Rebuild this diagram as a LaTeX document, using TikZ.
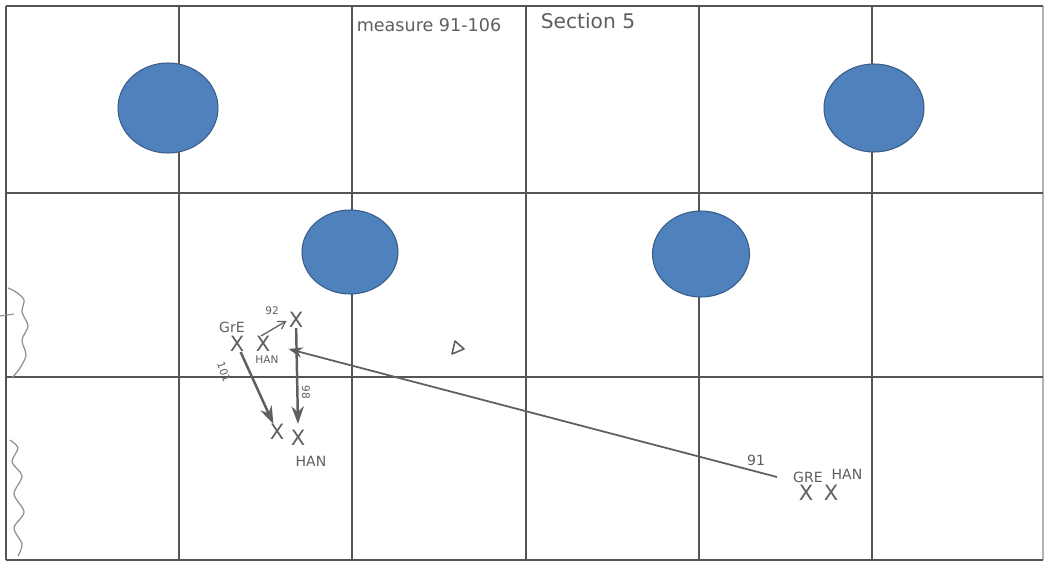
\documentclass[tikz,border=0pt]{standalone}
\usepackage{fontspec}
\setsansfont{DejaVu Sans}
\usetikzlibrary{arrows.meta,shapes.geometric}
\definecolor{seat}{RGB}{79,129,189}
\definecolor{seatline}{RGB}{56,93,138}
\definecolor{gridc}{RGB}{85,85,85}
\definecolor{pencil}{RGB}{95,95,95}
\tikzset{
  gridline/.style={draw=gridc,line width=1.2pt},
  seatdot/.style={ellipse,fill=seat,draw=seatline,line width=0.6pt,inner sep=0pt},
  hand/.style={text=pencil,font=\sffamily\fontsize{8}{8}\selectfont,inner sep=1pt},
  smallhand/.style={text=pencil,font=\sffamily\fontsize{6}{6}\selectfont,inner sep=0.5pt},
  title/.style={text=pencil,font=\sffamily\fontsize{10}{10}\selectfont,inner sep=1pt},
  bigtitle/.style={text=pencil,font=\sffamily\fontsize{11.5}{11.5}\selectfont,inner sep=1pt},
  cross/.style={text=pencil,font=\sffamily\fontsize{12}{12}\selectfont,inner sep=0pt},
  move/.style={draw=pencil,line width=1.4pt,-{Stealth[length=10pt,width=7pt]}},
  longmove/.style={draw=pencil,line width=1pt,-{Stealth[length=8pt,width=6pt]}},
  thinmove/.style={draw=pencil,line width=0.7pt,-{Straight Barb[length=4pt,width=5pt]}},
  wave/.style={draw=pencil!70,line width=0.7pt}
}
\begin{document}
\begin{tikzpicture}[x=0.02cm,y=-0.02cm]
\useasboundingbox (0,0) rectangle (1045,561);
\fill[white] (0,0) rectangle (1045,561);
% grid
\foreach \x in {6,179,352,526,699,872}{\draw[gridline] (\x,6) -- (\x,560);}
\draw[draw=gridc!45,line width=1pt] (1043,6) -- (1043,560);
\foreach \y in {6,193,377,560}{\draw[gridline] (6,\y) -- (1043,\y);}
% blue circles
\node[seatdot,minimum width=2cm,minimum height=1.8cm] (s1) at (168,108) {};
\node[seatdot,minimum width=2cm,minimum height=1.76cm] (s2) at (874,108) {};
\node[seatdot,minimum width=1.92cm,minimum height=1.68cm] (s3) at (350,252) {};
\node[seatdot,minimum width=1.94cm,minimum height=1.72cm] (s4) at (701,254) {};
% titles
\node[title] (t1) at (429,25) {measure 91-106};
\node[bigtitle] (t2) at (588,21) {Section 5};
% left group
\node[hand] (gre) at (232,327) {GrE};
\node[cross] (x1) at (237,344) {X};
\node[cross] (x2) at (263,344) {X};
\node[smallhand] (han1) at (267,360) {HAN};
\node[cross] (x3) at (296,320) {X};
\node[cross] (x4) at (277,432) {X};
\node[cross] (x5) at (298,438) {X};
\node[hand] (han2) at (311,461) {HAN};
\node[smallhand,rotate=-70] (l101) at (224,372) {101};
\node[smallhand] (l92) at (272,311) {92};
\node[smallhand,rotate=-90] (l98) at (306,392) {98};
\draw[move] (x1) -- (x4);
\draw[move] (x3) -- ([yshift=0.12cm]x5.north);
\draw[thinmove] ([xshift=-0.04cm]x2.north) -- ([xshift=-0.04cm,yshift=-0.02cm]x3.west);
% right group
\node[hand] (gre2) at (808,477) {GRE};
\node[hand] (han3) at (847,474) {HAN};
\node[cross] (x6) at (806,493) {X};
\node[cross] (x7) at (831,493) {X};
\node[hand] (l91) at (756,460) {91};
\coordinate (start91) at (777,477);
\draw[longmove] (start91) -- ([xshift=0.36cm,yshift=-0.1cm]x2.east);
% triangle mark
\draw[pencil,line width=0.9pt,line join=round] (455,341) -- (452,354) -- (464,349) -- cycle;
% left wavy edges
\draw[wave] plot[smooth] coordinates {(8,288) (16,292) (24,300) (22,312) (28,326) (22,340) (26,355) (20,368) (12,378)};
\draw[wave] plot[smooth] coordinates {(10,440) (18,448) (12,462) (22,476) (14,494) (24,512) (14,528) (22,544) (18,556)};
\draw[pencil!70,line width=0.6pt] (0,316) -- (14,314);
\end{tikzpicture}
\end{document}
